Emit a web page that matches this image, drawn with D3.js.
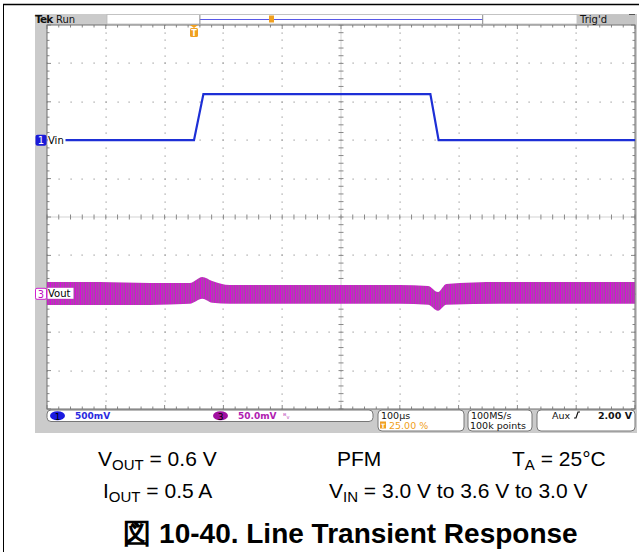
<!DOCTYPE html>
<html><head><meta charset="utf-8">
<script src="https://cdn.jsdelivr.net/npm/d3@7"></script>
<style>body{margin:0;background:#fff}svg{display:block}</style>
</head><body><svg id="c" width="639" height="552"></svg>
<script>
// ---------- data ----------
const vinTime  = [-250, 0, 16, 402, 416, 750];          // µs
const vinVolts = [3.0, 3.0, 3.6, 3.6, 3.0, 3.0];         // V
const voutTime   = [-250, -160, -75, -7, 14, 31, 61, 180, 350, 398, 415, 429, 520, 750]; // µs
const voutTop    = [15.4, 15.4, 14.1, 14.1, 21.9, 16.7, 11.5, 11.5, 11.5, 10.2, 2.3, 12.8, 15.4, 15.4]; // mV
const voutBottom = [-14.5, -14.5, -14.5, -13.0, -6.5, -11.7, -13.0, -13.0, -13.0, -14.3, -22.1, -14.3, -13.0, -13.0]; // mV
const chLabels = ["Vin", "Vout"];
const statusCh = [{n: "1", text: "500mV"}, {n: "3", text: "50.0mV"}];
const timeBox = ["100µs", "25.00 %"];
const rateBox = ["100MS/s", "100k points"];
const trigBox = ["Aux", "2.00 V"];
const caption1 = ["V", "OUT", " = 0.6 V"];
const caption2 = ["I", "OUT", " = 0.5 A"];
const caption3 = ["V", "IN", " = 3.0 V to 3.6 V to 3.0 V"];
const captionTa = ["T", "A", " = 25°C"];
const title = "図 10-40. Line Transient Response";

// ---------- scales ----------
const GL = 47, GR = 635, GT = 25, GB = 409;
const x = d3.scaleLinear().domain([-250, 750]).range([GL, GR]);
const div = d3.scaleLinear().domain([-5, 5]).range([GB, GT]);
const y1 = d3.scaleLinear().domain([3.0 - 7 * 0.5, 3.0 + 3 * 0.5]).range([GB, GT]);  // ch1 500mV/div, +2div
const y3 = d3.scaleLinear().domain([-3 * 50, 7 * 50]).range([GB, GT]);                // ch3 50mV/div, -2div

const svg = d3.select("#c");
const SANS = "'DejaVu Sans', sans-serif";
const ARIAL = "'Liberation Sans', Arial, sans-serif";

// outer frame lines
svg.append("line").attr("x1", 3).attr("x2", 639).attr("y1", 4.5).attr("y2", 4.5).attr("stroke", "#000").attr("stroke-width", 1.5);
svg.append("line").attr("x1", 3.5).attr("x2", 3.5).attr("y1", 4).attr("y2", 552).attr("stroke", "#000").attr("stroke-width", 1);

// scope gray frame
svg.append("rect").attr("x", 35).attr("y", 14).attr("width", 602).attr("height", 419).attr("fill", "#cbcbcb");

// graticule background
svg.append("rect").attr("x", GL).attr("y", GT).attr("width", GR - GL).attr("height", GB - GT).attr("fill", "#fff");

// grid dots
const g = svg.append("g");
const xMinor = d3.range(-250, 750.1, 20);
const yMinor = d3.range(-5, 5.01, 0.2);
const majT = d3.range(-150, 700, 100).filter(t => t !== 250);
const majD = d3.range(-4, 5, 1).filter(d => d !== 0);
const dots = [];
majT.forEach(t => yMinor.forEach(d => dots.push([x(t), div(d)])));
majD.forEach(d => xMinor.forEach(t => dots.push([x(t), div(d)])));
g.selectAll("rect.dot").data(dots).join("rect").attr("class", "dot")
  .attr("x", d => Math.round(d[0]) - 0.5).attr("y", d => Math.round(d[1]) - 0.5)
  .attr("width", 1.2).attr("height", 1.2).attr("fill", "#9a9a9a");
// center cross
g.append("line").attr("x1", GL).attr("x2", GR).attr("y1", div(0)).attr("y2", div(0)).attr("stroke", "#c8c8c8").attr("stroke-width", 0.8);
g.append("line").attr("x1", x(250)).attr("x2", x(250)).attr("y1", GT).attr("y2", GB).attr("stroke", "#c8c8c8").attr("stroke-width", 0.8);
g.selectAll("line.tx").data(xMinor).join("line").attr("class", "tx")
  .attr("x1", d => x(d)).attr("x2", d => x(d)).attr("y1", div(0) - 2.5).attr("y2", div(0) + 2.5).attr("stroke", "#888");
g.selectAll("line.ty").data(yMinor).join("line").attr("class", "ty")
  .attr("y1", d => div(d)).attr("y2", d => div(d)).attr("x1", x(250) - 2.5).attr("x2", x(250) + 2.5).attr("stroke", "#888");
// edge ticks
g.selectAll("line.et").data(xMinor).join("line").attr("class", "et")
  .attr("x1", d => x(d)).attr("x2", d => x(d)).attr("y1", GT).attr("y2", d => GT + ((d + 250) % 100 === 0 ? 4 : 2.5)).attr("stroke", "#888");
g.selectAll("line.eb").data(xMinor).join("line").attr("class", "eb")
  .attr("x1", d => x(d)).attr("x2", d => x(d)).attr("y1", GB).attr("y2", d => GB - ((d + 250) % 100 === 0 ? 4 : 2.5)).attr("stroke", "#888");
g.selectAll("line.er").data(yMinor).join("line").attr("class", "er")
  .attr("y1", d => div(d)).attr("y2", d => div(d)).attr("x1", GR).attr("x2", d => GR - (Math.abs(d % 1) < 0.01 ? 4 : 2.5)).attr("stroke", "#888");
g.selectAll("line.el").data(yMinor).join("line").attr("class", "el")
  .attr("y1", d => div(d)).attr("y2", d => div(d)).attr("x1", GL).attr("x2", d => GL + (Math.abs(d % 1) < 0.01 ? 4 : 2.5)).attr("stroke", "#888");
svg.append("rect").attr("x", GL).attr("y", GT).attr("width", GR - GL).attr("height", GB - GT)
  .attr("fill", "none").attr("stroke", "#6e6e6e").attr("stroke-width", 1);

// ---------- Vout ripple band ----------
const defs = svg.append("defs");
const pat = defs.append("pattern").attr("id", "rip").attr("patternUnits", "userSpaceOnUse").attr("width", 2.5).attr("height", 10);
pat.append("rect").attr("width", 2.5).attr("height", 10).attr("fill", "#ee7cee");
pat.append("rect").attr("x", 0).attr("width", 0.9).attr("height", 10).attr("fill", "#e000e0");
pat.append("rect").attr("x", 1.3).attr("width", 0.8).attr("height", 10).attr("fill", "#3a0a3a").attr("opacity", 0.8);
const voutData = voutTime.map((t, i) => ({t, top: voutTop[i], bot: voutBottom[i]}));
svg.append("path").datum(voutData)
  .attr("d", d3.area().x(d => x(d.t)).y0(d => y3(d.bot)).y1(d => y3(d.top)).curve(d3.curveMonotoneX))
  .attr("fill", "url(#rip)");

// ---------- Vin trace ----------
const vinData = vinTime.map((t, i) => ({t, v: vinVolts[i]}));
svg.append("path").datum(vinData)
  .attr("d", d3.line().x(d => x(d.t)).y(d => y1(d.v)))
  .attr("fill", "none").attr("stroke", "#1d2fd6").attr("stroke-width", 2.2);

// ---------- channel markers ----------
const m1y = y1(3.0);
svg.append("rect").attr("x", 35.5).attr("y", m1y - 5.5).attr("width", 11).attr("height", 11).attr("rx", 2).attr("fill", "#1a1ad8");
svg.append("text").attr("x", 41).attr("y", m1y + 4).attr("text-anchor", "middle").attr("font-family", SANS).attr("font-size", 10).attr("fill", "#fff").text("1");
svg.append("rect").attr("x", 47.5).attr("y", m1y - 6).attr("width", 18).attr("height", 11).attr("fill", "#fff");
svg.append("text").attr("x", 48).attr("y", m1y + 3.5).attr("font-family", SANS).attr("font-size", 10).attr("fill", "#000").text(chLabels[0]);

const m3y = y3(0);
svg.append("rect").attr("x", 35.5).attr("y", m3y - 5.5).attr("width", 11).attr("height", 11).attr("rx", 1.5).attr("fill", "#fff").attr("stroke", "#d020d0");
svg.append("text").attr("x", 41).attr("y", m3y + 4).attr("text-anchor", "middle").attr("font-family", SANS).attr("font-size", 10).attr("fill", "#c010c0").text("3");
svg.append("rect").attr("x", 47.5).attr("y", m3y - 6).attr("width", 26).attr("height", 11).attr("fill", "#fff");
svg.append("text").attr("x", 48).attr("y", m3y + 3.5).attr("font-family", SANS).attr("font-size", 10).attr("fill", "#000").text(chLabels[1]);

// ---------- top bar ----------
svg.append("rect").attr("x", 107).attr("y", 14.5).attr("width", 470).attr("height", 9.5).attr("fill", "#fff").attr("stroke", "#bbb").attr("stroke-width", 0.8);
svg.append("text").attr("x", 35).attr("y", 22.5).attr("font-family", SANS).attr("font-size", 10.5).attr("font-weight", "bold").attr("letter-spacing", -0.8).attr("fill", "#111").text("Tek");
svg.append("text").attr("x", 56).attr("y", 22.5).attr("font-family", SANS).attr("font-size", 10).attr("fill", "#111").text("Run");
svg.append("line").attr("x1", x(10)).attr("x2", x(491)).attr("y1", 19.5).attr("y2", 19.5).attr("stroke", "#5858e8").attr("stroke-width", 1);
[x(10), x(491)].forEach(px => svg.append("line").attr("x1", px).attr("x2", px).attr("y1", 15).attr("y2", 24).attr("stroke", "#888"));
svg.append("rect").attr("x", 269).attr("y", 15.5).attr("width", 5).attr("height", 7).attr("fill", "#f0a020");
svg.append("rect").attr("x", 577).attr("y", 14.5).attr("width", 58).attr("height", 9.5).attr("fill", "#c4c4c4");
svg.append("text").attr("x", 580).attr("y", 22.5).attr("font-family", SANS).attr("font-size", 10).attr("fill", "#111").text("Trig'd");
svg.append("line").attr("x1", 629).attr("x2", 635).attr("y1", 14.5).attr("y2", 14.5).attr("stroke", "#555");

// trigger position marker
const tx0 = x(0);
svg.append("path").attr("d", `M${tx0 - 4},25 L${tx0 + 4},25 L${tx0},28 Z`).attr("fill", "#f0a020");
svg.append("rect").attr("x", tx0 - 4).attr("y", 28).attr("width", 8).attr("height", 9).attr("rx", 1.5).attr("fill", "#f0a020");
svg.append("text").attr("x", tx0).attr("y", 35.5).attr("text-anchor", "middle").attr("font-family", SANS).attr("font-size", 8).attr("font-weight", "bold").attr("fill", "#fff").text("T");

// ---------- status boxes ----------
function box(x0, x1, y0, y1) {
  svg.append("rect").attr("x", x0).attr("y", y0).attr("width", x1 - x0).attr("height", y1 - y0).attr("rx", 4)
    .attr("fill", "#fff").attr("stroke", "#777").attr("stroke-width", 1);
}
box(47, 373, 410, 421.5);
box(378, 464, 410, 431);
box(468, 532, 410, 431);
box(537, 635, 410, 431);
const chColors = ["#1a1ae0", "#a010a0"];
const chTextColors = ["#2a2ae0", "#b020b0"];
const chX = [50, 213];
statusCh.forEach((c, i) => {
  svg.append("ellipse").attr("cx", chX[i] + 7.5).attr("cy", 415.8).attr("rx", 7.5).attr("ry", 4.5).attr("fill", chColors[i]);
  svg.append("text").attr("x", chX[i] + 7.5).attr("y", 419.5).attr("text-anchor", "middle").attr("font-family", SANS).attr("font-size", 9).attr("fill", "#000").text(c.n);
  svg.append("text").attr("x", chX[i] + 25).attr("y", 419.3).attr("font-family", SANS).attr("font-size", 9).attr("font-weight", "bold").attr("fill", chTextColors[i]).text(c.text);
});
svg.append("text").attr("x", 283).attr("y", 419).attr("font-family", SANS).attr("font-size", 8).attr("fill", "#c050c0").text("ᴮᵥ");
svg.append("text").attr("x", 381).attr("y", 418.5).attr("font-family", SANS).attr("font-size", 9.5).attr("fill", "#111").text(timeBox[0]);
svg.append("rect").attr("x", 380).attr("y", 421.5).attr("width", 6).attr("height", 7).attr("fill", "#f0a020");
svg.append("text").attr("x", 383).attr("y", 428).attr("text-anchor", "middle").attr("font-family", SANS).attr("font-size", 6).attr("font-weight", "bold").attr("fill", "#fff").text("T");
svg.append("text").attr("x", 389).attr("y", 428.8).attr("font-family", SANS).attr("font-size", 9.5).attr("fill", "#f0a020").text(timeBox[1]);
svg.append("text").attr("x", 471).attr("y", 418.5).attr("font-family", SANS).attr("font-size", 9.5).attr("fill", "#111").text(rateBox[0]);
svg.append("text").attr("x", 470).attr("y", 429).attr("font-family", SANS).attr("font-size", 9.5).attr("fill", "#111").text(rateBox[1]);
svg.append("text").attr("x", 552).attr("y", 418.5).attr("font-family", SANS).attr("font-size", 9.5).attr("fill", "#111").text(trigBox[0]);
svg.append("path").attr("d", "M574,418 L576,418 L578,412 L580,412").attr("fill", "none").attr("stroke", "#111").attr("stroke-width", 1.2);
svg.append("text").attr("x", 632).attr("y", 418.5).attr("text-anchor", "end").attr("font-family", SANS).attr("font-size", 9.5).attr("font-weight", "bold").attr("fill", "#111").text(trigBox[1]);

// ---------- caption ----------
function subText(parts, xPos, yPos, anchor) {
  const t = svg.append("text").attr("x", xPos).attr("y", yPos).attr("font-family", ARIAL).attr("font-size", 21).attr("fill", "#000").attr("text-anchor", anchor || "start");
  t.append("tspan").text(parts[0]);
  t.append("tspan").attr("font-size", 15).attr("dy", 4).text(parts[1]);
  t.append("tspan").attr("dy", -4).text(parts[2]);
}
subText(caption1, 98, 466);
svg.append("text").attr("x", 337).attr("y", 466).attr("font-family", ARIAL).attr("font-size", 21).attr("fill", "#000").text("PFM");
subText(captionTa, 512, 466);
subText(caption2, 103, 498);
subText(caption3, 329, 498);
svg.append("text").attr("x", 350.5).attr("y", 543).attr("text-anchor", "middle").attr("font-family", ARIAL).attr("font-size", 28).attr("font-weight", "bold").attr("fill", "#000").text(title);
</script>
</body></html>
